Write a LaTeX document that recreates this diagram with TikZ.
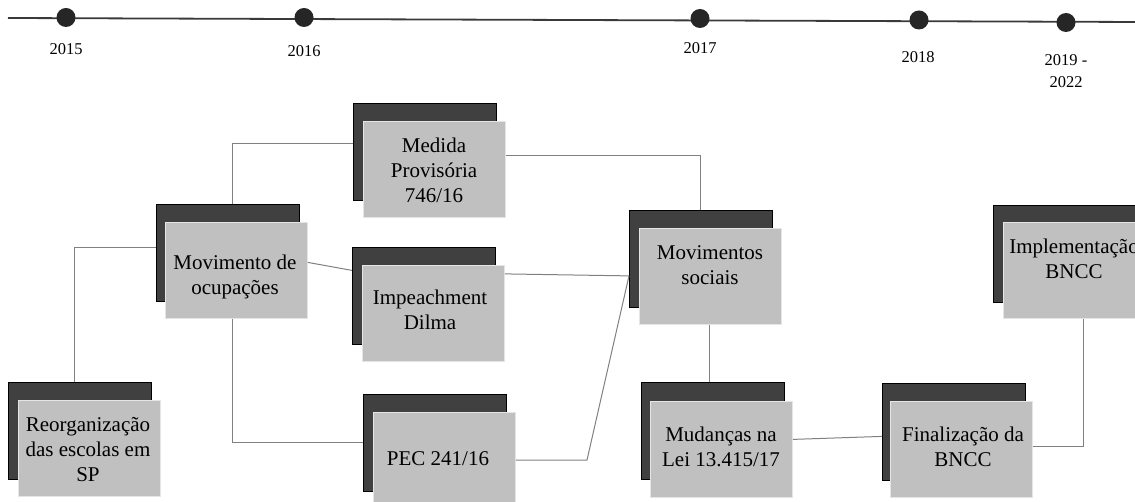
\documentclass[tikz,border=0pt]{standalone}
\usepackage{fontspec}
\setmainfont{Liberation Serif}
\definecolor{backc}{HTML}{404040}
\definecolor{frontc}{HTML}{C0C0C0}
\definecolor{linec}{HTML}{808080}
\definecolor{tlc}{HTML}{3A3A3A}
\definecolor{dotc}{HTML}{262626}
\tikzset{
  backbox/.style={draw=black, line width=0.8pt, fill=backc, minimum width=143pt, minimum height=97pt, inner sep=0pt, anchor=north west},
  frontbox/.style={draw=white!90!black, line width=0.8pt, fill=frontc, minimum width=142pt, minimum height=96pt, inner sep=0pt, anchor=north west},
  boxtext/.style={align=center, inner sep=0pt, font=\fontsize{21}{25}\selectfont},
  yeartext/.style={align=center, inner sep=0pt, font=\fontsize{16.5}{22}\selectfont},
  conn/.style={draw=linec, line width=1pt},
  dot/.style={circle, fill=dotc, minimum size=19pt, inner sep=0pt},
}
\begin{document}
\begin{tikzpicture}[x=1pt,y=-1pt]
\useasboundingbox (0,0) rectangle (1135,502);
% timeline
\coordinate (tlstart) at (8,18);
\coordinate (tlend) at (1140,22);
\draw[tlc, line width=1.8pt] (tlstart) -- (tlend);
\node[dot] (d15) at (66,17.5) {};
\node[dot] (d16) at (304,17.5) {};
\node[dot] (d17) at (700,18.5) {};
\node[dot] (d18) at (919,20) {};
\node[dot] (d19) at (1066,22.5) {};
\node[yeartext] (y15) at (66,49) {2015};
\node[yeartext] (y16) at (304,51) {2016};
\node[yeartext] (y17) at (700,48) {2017};
\node[yeartext] (y18) at (918,57) {2018};
\node[yeartext] (y19) at (1066,71) {2019 -\\2022};

% boxes
\node[backbox] (mpb) at (353,103) {};
\node[frontbox] (mpf) at (363,121) {};
\node[boxtext] (mpt) at (434,170) {Medida\\Provisória\\746/16};

\node[backbox] (movb) at (156,204) {};
\node[frontbox] (movf) at (165,222) {};
\node[boxtext] (movt) at (235,277) {Movimento de\\ocupações};

\node[backbox] (reob) at (8,382) {};
\node[frontbox] (reof) at (18,400) {};
\node[boxtext] (reot) at (88,450) {Reorganização\\das escolas em\\SP};

\node[backbox] (impb) at (352,247) {};
\node[frontbox] (impf) at (362,265) {};
\node[boxtext] (impt) at (430,310) {Impeachment\\Dilma};

\node[backbox] (pecb) at (363,394) {};
\node[frontbox] (pecf) at (373,412) {};
\node[boxtext] (pect) at (438,459) {PEC 241/16};

\node[backbox] (msb) at (629,210) {};
\node[frontbox] (msf) at (639,228) {};
\node[boxtext] (mst) at (710,265) {Movimentos\\sociais};

\node[backbox] (mudb) at (641,382) {};
\node[frontbox] (mudf) at (650,401) {};
\node[boxtext] (mudt) at (721,447) {Mudanças na\\Lei 13.415/17};

\node[backbox] (finb) at (882,383) {};
\node[frontbox] (finf) at (890,401) {};
\node[boxtext] (fint) at (963,447) {Finalização da\\BNCC};

\node[backbox] (implb) at (993,205) {};
\node[frontbox] (implf) at (1003,222) {};
\node[boxtext] (implt) at (1074,259) {Implementação\\BNCC};

% connectors
\draw[conn] ([xshift=-5.5pt]reob.north) |- ([yshift=5.5pt]movb.west);
\draw[conn] ([xshift=5pt]movb.north) |- ([yshift=8.5pt]mpb.west);
\draw[conn] ([yshift=8pt]movf.east) -- ([yshift=25.5pt]impb.west);
\draw[conn] ([xshift=-3.5pt]movf.south) |- (pecb.west);
\draw[conn] ([yshift=14pt]mpf.east) -| (msb.north);
\coordinate (msin) at ([yshift=-17pt]msb.west);
\draw[conn] ([yshift=39.5pt]impf.east) -- (msin);
\coordinate (pecbend) at (587,460);
\draw[conn] (pecf.east |- pecbend) -- (pecbend) -- (msin);
\draw[conn] ([xshift=-1pt]msf.south) -- ([xshift=-1pt]msf.south |- mudb.north);
\draw[conn] ([yshift=10pt]mudf.east) -- ([yshift=-4.5pt]finb.west);
\draw[conn] ([yshift=3pt]finf.east) -| ([xshift=9pt]implf.south);
\end{tikzpicture}
\end{document}
